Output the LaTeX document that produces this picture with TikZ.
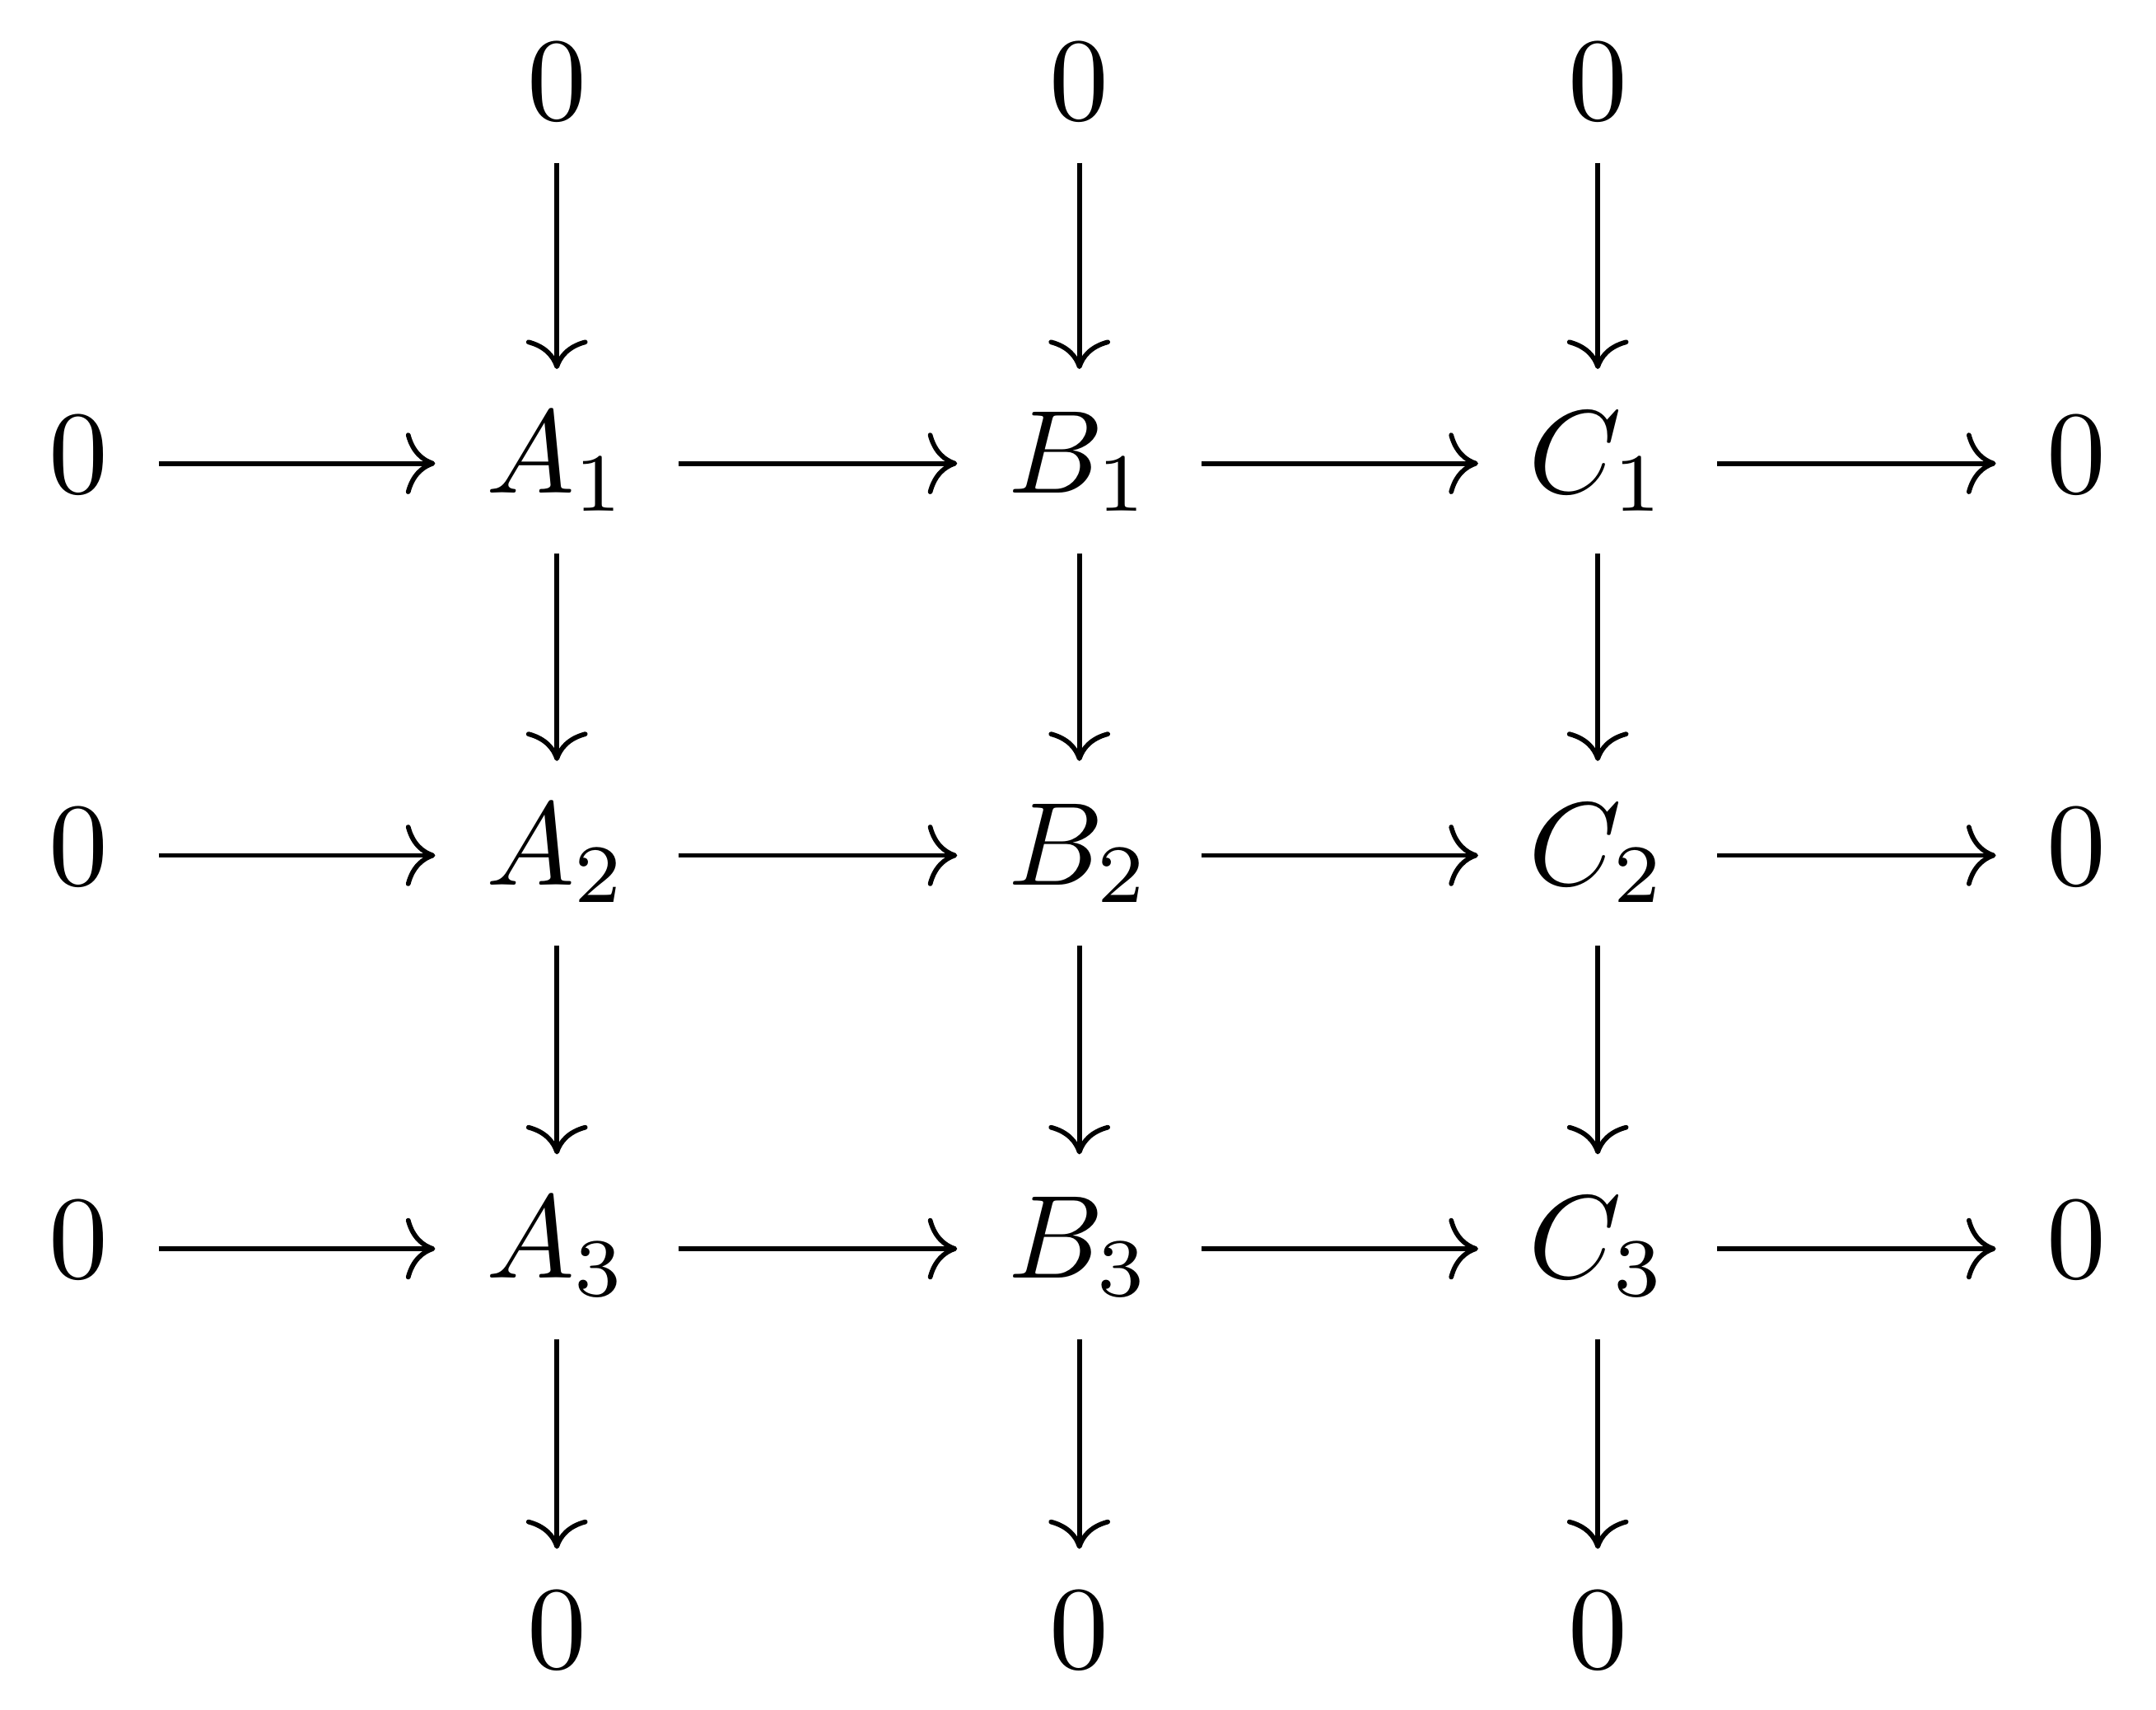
\documentclass[tikz,border=0pt]{standalone}
\usetikzlibrary{cd}
\begin{document}
\begin{tikzpicture}[x=0.1163pt,y=-0.1163pt,
  obj/.style={anchor=base, inner xsep=4.3pt, inner ysep=3.65pt, outer sep=0pt},
  arr/.style={-{cm to}, line width=0.4pt}]
\useasboundingbox (0,0) rectangle (1568,1243);
% top zeros
\node[obj] (ta) at (405,87) {$0$};
\node[obj] (tb) at (785,87) {$0$};
\node[obj] (tc) at (1162,87) {$0$};
% row 1
\node[obj] (l1) at (57,358.5) {$0$};
\node[obj] (a1) at (405,358.5) {$A_1$};
\node[obj] (b1) at (785,358.5) {$B_1$};
\node[obj] (c1) at (1162,358.5) {$C_1$};
\node[obj] (r1) at (1510,358.5) {$0$};
% row 2
\node[obj] (l2) at (57,643.5) {$0$};
\node[obj] (a2) at (405,643.5) {$A_2$};
\node[obj] (b2) at (785,643.5) {$B_2$};
\node[obj] (c2) at (1162,643.5) {$C_2$};
\node[obj] (r2) at (1510,643.5) {$0$};
% row 3
\node[obj] (l3) at (57,929.5) {$0$};
\node[obj] (a3) at (405,929.5) {$A_3$};
\node[obj] (b3) at (785,929.5) {$B_3$};
\node[obj] (c3) at (1162,929.5) {$C_3$};
\node[obj] (r3) at (1510,929.5) {$0$};
% bottom zeros
\node[obj] (ba) at (405,1213) {$0$};
\node[obj] (bb) at (785,1213) {$0$};
\node[obj] (bc) at (1162,1213) {$0$};
% horizontal arrows
\foreach \r in {1,2,3}{
  \draw[arr] ([yshift=2.5pt]l\r.base east) -- ([yshift=2.5pt]a\r.base west);
  \draw[arr] ([yshift=2.5pt]a\r.base east) -- ([yshift=2.5pt]b\r.base west);
  \draw[arr] ([yshift=2.5pt]b\r.base east) -- ([yshift=2.5pt]c\r.base west);
  \draw[arr] ([yshift=2.5pt]c\r.base east) -- ([yshift=2.5pt]r\r.base west);
}
% vertical arrows
\foreach \c in {a,b,c}{
  \draw[arr] (t\c.south) -- (\c1.north);
  \draw[arr] (\c1.south) -- (\c2.north);
  \draw[arr] (\c2.south) -- (\c3.north);
  \draw[arr] (\c3.south) -- (b\c.north);
}
\end{tikzpicture}
\end{document}
